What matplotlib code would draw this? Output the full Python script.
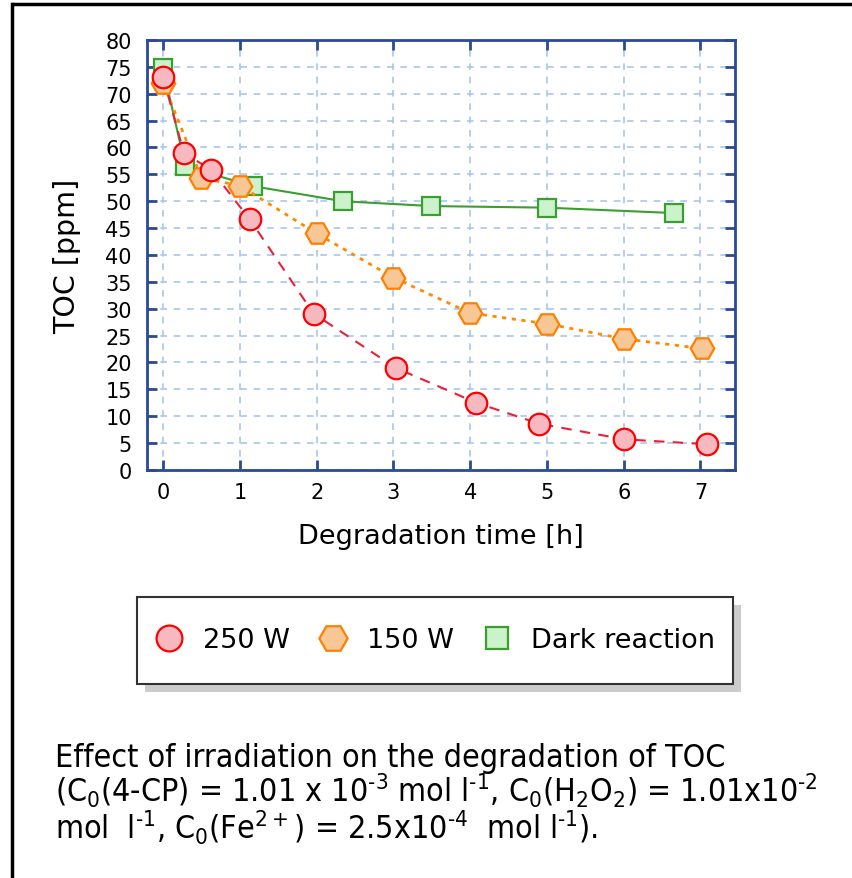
import matplotlib
matplotlib.use("Agg")
import matplotlib.pyplot as plt
from matplotlib.patches import Rectangle
from matplotlib.lines import Line2D

plt.rcParams['font.family'] = ['DejaVu Sans']
plt.rcParams['mathtext.default'] = 'regular'

# data
t_250 = [0, 0.27, 0.63, 1.13, 1.96, 3.03, 4.08, 4.9, 6.01, 7.08]
toc_250 = [73.1, 59.0, 55.8, 46.6, 29.1, 19.0, 12.5, 8.6, 5.7, 4.8]
t_150 = [0, 0.5, 1.0, 2.0, 3.0, 4.0, 5.0, 6.0, 7.02]
toc_150 = [72.0, 54.3, 52.9, 44.0, 35.8, 29.2, 27.2, 24.4, 22.6]
t_dark = [0, 0.29, 1.17, 2.34, 3.49, 5.0, 6.65]
toc_dark = [74.7, 56.5, 52.8, 50.0, 49.1, 48.8, 47.8]

xticks = list(range(0, 8))
yticks = list(range(0, 85, 5))

# hyphen (not minus) in the exponents, like the original
caption = ("Effect of irradiation on the degradation of TOC\n"
           "(C$_0$(4-CP) = 1.01 x 10$^{\u20103}$ mol l$^{\u20101}$, C$_0$(H$_2$O$_2$) = 1.01x10$^{\u20102}$\n"
           "mol  l$^{\u20101}$, C$_0$(Fe$^{2+}$) = 2.5x10$^{\u20104}$  mol l$^{\u20101}$).")

blue = '#2b4a94'

fig = plt.figure(figsize=(8.53, 8.79), dpi=100)
ax = fig.add_axes([0.1723, 0.4642, 0.6894, 0.4892])

ax.plot(t_250, toc_250, color='#e8203a', ls=(0, (5, 4)), lw=1.5, marker='o',
        ms=15.5, mfc='#f7b8c0', mec='#ff0000', mew=1.6, label='250 W', zorder=3)
ax.plot(t_150, toc_150, color='#ff8a00', ls=(0, (1.5, 2)), lw=2, marker='H',
        ms=17, mfc='#f7c796', mec='#ff8000', mew=1.6, label='150 W', zorder=2)
ax.plot(t_dark, toc_dark, color='#3a9e30', ls='-', lw=1.5, marker='s',
        ms=13, mfc='#ccf2cc', mec='#3a9e30', mew=1.6, label='Dark reaction', zorder=1)

ax.set_xlim(-0.21, 7.45)
ax.set_ylim(0, 80)
ax.set_xticks(xticks)
ax.set_yticks(yticks)
ax.grid(True, color='#a9c6f0', ls=(0, (4, 4)), lw=1.2)
ax.set_axisbelow(True)
for s in ax.spines.values():
    s.set_color(blue)
    s.set_linewidth(2)
ax.tick_params(direction='in', length=7, width=2, color=blue, labelsize=15,
               top=True, right=True, pad=9)
ax.tick_params(axis='y', pad=11)

ax.set_xlabel('Degradation time [h]', fontsize=19.5, labelpad=15)
ax.set_ylabel('TOC [ppm]', fontsize=20.5, labelpad=17)

# legend box with shadow
lx0, ly0, lw_, lh = 137 / 853, 1 - 685 / 879, 596 / 853, 87 / 879
fig.patches.append(Rectangle((lx0 + 8 / 853, ly0 - 8 / 879), lw_, lh,
                             transform=fig.transFigure, fc='#cccccc', ec='none'))
fig.patches.append(Rectangle((lx0, ly0), lw_, lh, transform=fig.transFigure,
                             fc='white', ec='#333333', lw=1.5))
handles, labels = ax.get_legend_handles_labels()
leg = fig.legend(handles, labels, loc='center', bbox_to_anchor=(lx0 + lw_ / 2, ly0 + lh / 2),
                 ncol=3, frameon=False, fontsize=19.5, handlelength=1.0,
                 columnspacing=1.1, handletextpad=0.75, markerscale=1.2)
for lh_ in leg.get_lines():
    lh_.set_linestyle('none')

fig.text(55 / 853, 1 - 795 / 879, caption, fontsize=23, va='center', ha='left',
         linespacing=0.95, fontstretch='condensed')

# outer frame (left and top only visible)
fig.lines.append(Line2D([12 / 853, 12 / 853], [0, 1 - 5 / 879], transform=fig.transFigure,
                        color='black', lw=2.5))
fig.lines.append(Line2D([11 / 853, 1], [1 - 5 / 879, 1 - 5 / 879], transform=fig.transFigure,
                        color='black', lw=2.5, solid_capstyle='butt'))

fig.savefig('out.png', dpi=100)
